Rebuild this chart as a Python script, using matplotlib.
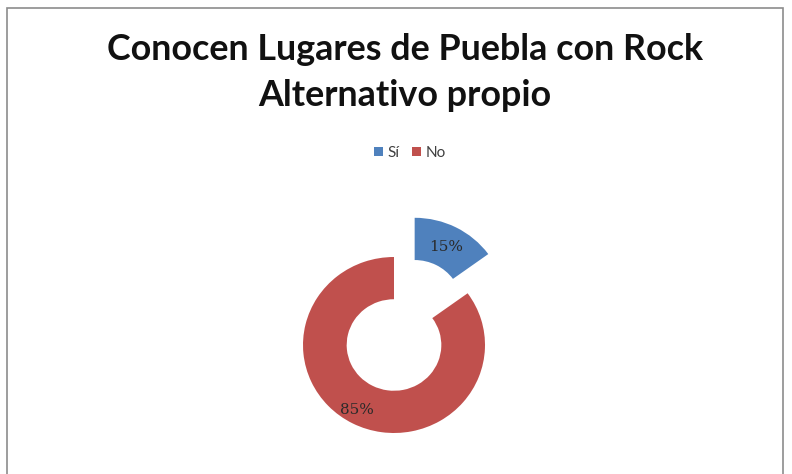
import matplotlib
matplotlib.use("Agg")
import matplotlib.pyplot as plt
from matplotlib.patches import Rectangle, Patch

labels = ["Sí", "No"]
values = [15, 85]
colors = ["#4F81BD", "#C0504D"]
explode = [0.5, 0.0]

W, H = 792, 474
fig = plt.figure(figsize=(W / 100, H / 100), dpi=100)

# chart border
fig.patches.append(Rectangle((7 / W, -0.05), 776 / W, 1.05 - 8 / H, transform=fig.transFigure,
                             fill=False, edgecolor="#8c8c8c", linewidth=1.2))

fig.text(405 / W, 1 - 50 / H, "Conocen Lugares de Puebla con Rock", ha="center", va="center",
         fontsize=25.8, fontweight="bold", family="Lato", color="#111111")
fig.text(405 / W, 1 - 95 / H, "Alternativo propio", ha="center", va="center",
         fontsize=25.8, fontweight="bold", family="Lato", color="#111111")

# donut, centre of the unexploded ring ~ (394, 345) px, radius ~ 88-91 px
cx, cy, rx, ry, lim = 394, 345, 91, 88, 1.6
ax = fig.add_axes([(cx - lim * rx) / W, (H - cy - lim * ry) / H, 2 * lim * rx / W, 2 * lim * ry / H])
wedges, texts, autotexts = ax.pie(values, explode=explode, colors=colors, startangle=90,
                                  counterclock=False, autopct="%1.0f%%", pctdistance=0.75,
                                  wedgeprops=dict(width=0.48, linewidth=0),
                                  textprops=dict(fontsize=13, family="DejaVu Serif", color="#2a2a2a"))
ax.set_xlim(-lim, lim)
ax.set_ylim(-lim, lim)
ax.set_aspect("auto")
ax.axis("off")
for w in wedges:
    w.set_clip_on(False)
# Excel puts the big label a bit further out
x, y = autotexts[1].get_position()
autotexts[1].set_position((x * 1.2, y * 1.1))
for t in autotexts:
    t.set_fontsize(11)

handles = [Patch(facecolor=c, label=l) for c, l in zip(colors, labels)]
fig.legend(handles=handles, loc="center", bbox_to_anchor=(410 / W, 1 - 153 / H), ncol=2,
           frameon=False, handlelength=0.6, handleheight=0.6, handletextpad=0.3, columnspacing=0.8,
           prop=dict(family="Lato", size=11), labelcolor="#404040")

fig.savefig("out.png", dpi=100)
